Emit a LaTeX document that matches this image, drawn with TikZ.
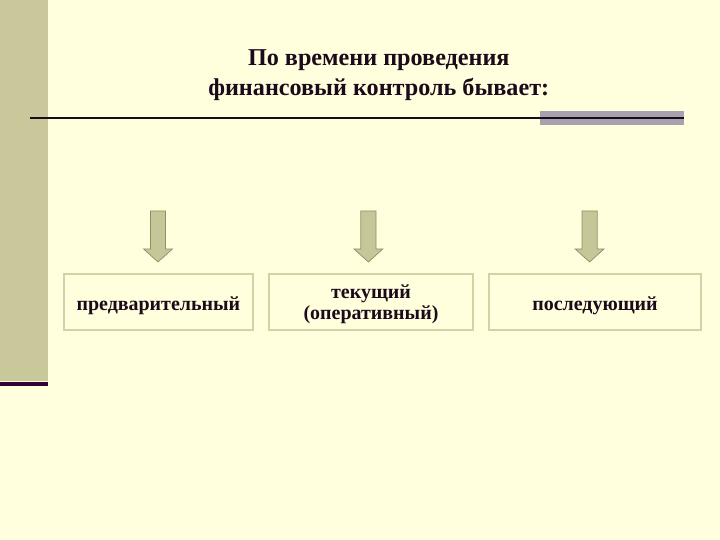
\documentclass[tikz,border=0pt]{standalone}
\usepackage{fontspec}
\setmainfont{Liberation Serif}
\usetikzlibrary{positioning}
\definecolor{bgcol}{HTML}{FFFFDD}
\definecolor{stripcol}{HTML}{C8C89A}
\definecolor{darkline}{HTML}{330033}
\definecolor{rulecol}{HTML}{1A0A1A}
\definecolor{rulegray}{HTML}{A8A2AE}
\definecolor{arrfill}{HTML}{C6C699}
\definecolor{arrdraw}{HTML}{8F8F66}
\definecolor{boxline}{HTML}{D2D2A6}
\definecolor{textcol}{HTML}{1A0A1A}

\begin{document}
\begin{tikzpicture}[
    every node/.style={text=textcol},
    title/.style={font=\bfseries\fontsize{17.2}{21.3}\selectfont, align=center},
    kind/.style={rectangle, draw=boxline, fill=bgcol, line width=1.4pt,
                 minimum height=1.41cm, inner sep=0pt, align=center,
                 font=\bfseries\fontsize{14.2}{15.6}\selectfont},
    one/.style={text height=12pt, text depth=0pt},
    two/.style={text height=25.6pt, text depth=0pt},
    blk/.style={fill=arrfill, draw=arrdraw, line width=0.5pt},
]
\useasboundingbox (0, 0) rectangle (18, 13.5);

% ================================================================ background
\fill[bgcol] (-0.1, -0.1) rectangle (18.1, 13.6);
\fill[stripcol] (-0.1, 3.975) rectangle (1.20, 13.6);
\draw[darkline, line width=2.8pt] (-0.1, 3.91) -- (1.20, 3.91);

% ================================================================ title and rule
\node[title] (head) at (9.47, 11.61)
    {По времени проведения\\финансовый контроль бывает:};

\fill[rulegray] (13.50, 10.375) rectangle (17.10, 10.725);
\draw[rulecol, line width=1.4pt] (0.75, 10.55) -- (17.10, 10.55);

% ================================================================ three kinds
\node[kind, one, minimum width=4.72cm] (pre) at (3.96, 5.95) {предварительный};
\node[kind, two, minimum width=5.10cm] (cur) at (9.275, 5.95)
    {текущий\\(оперативный)};
\node[kind, one, minimum width=5.30cm] (post) at (14.875, 5.95) {последующий};

% block arrows above the boxes
\foreach \x in {3.95, 9.21, 14.74}{
    \draw[blk] (\x-0.19, 8.225) -- (\x+0.19, 8.225) -- (\x+0.19, 7.275)
        -- (\x+0.36, 7.275) -- (\x, 6.95) -- (\x-0.36, 7.275)
        -- (\x-0.19, 7.275) -- cycle;
}

\end{tikzpicture}
\end{document}
